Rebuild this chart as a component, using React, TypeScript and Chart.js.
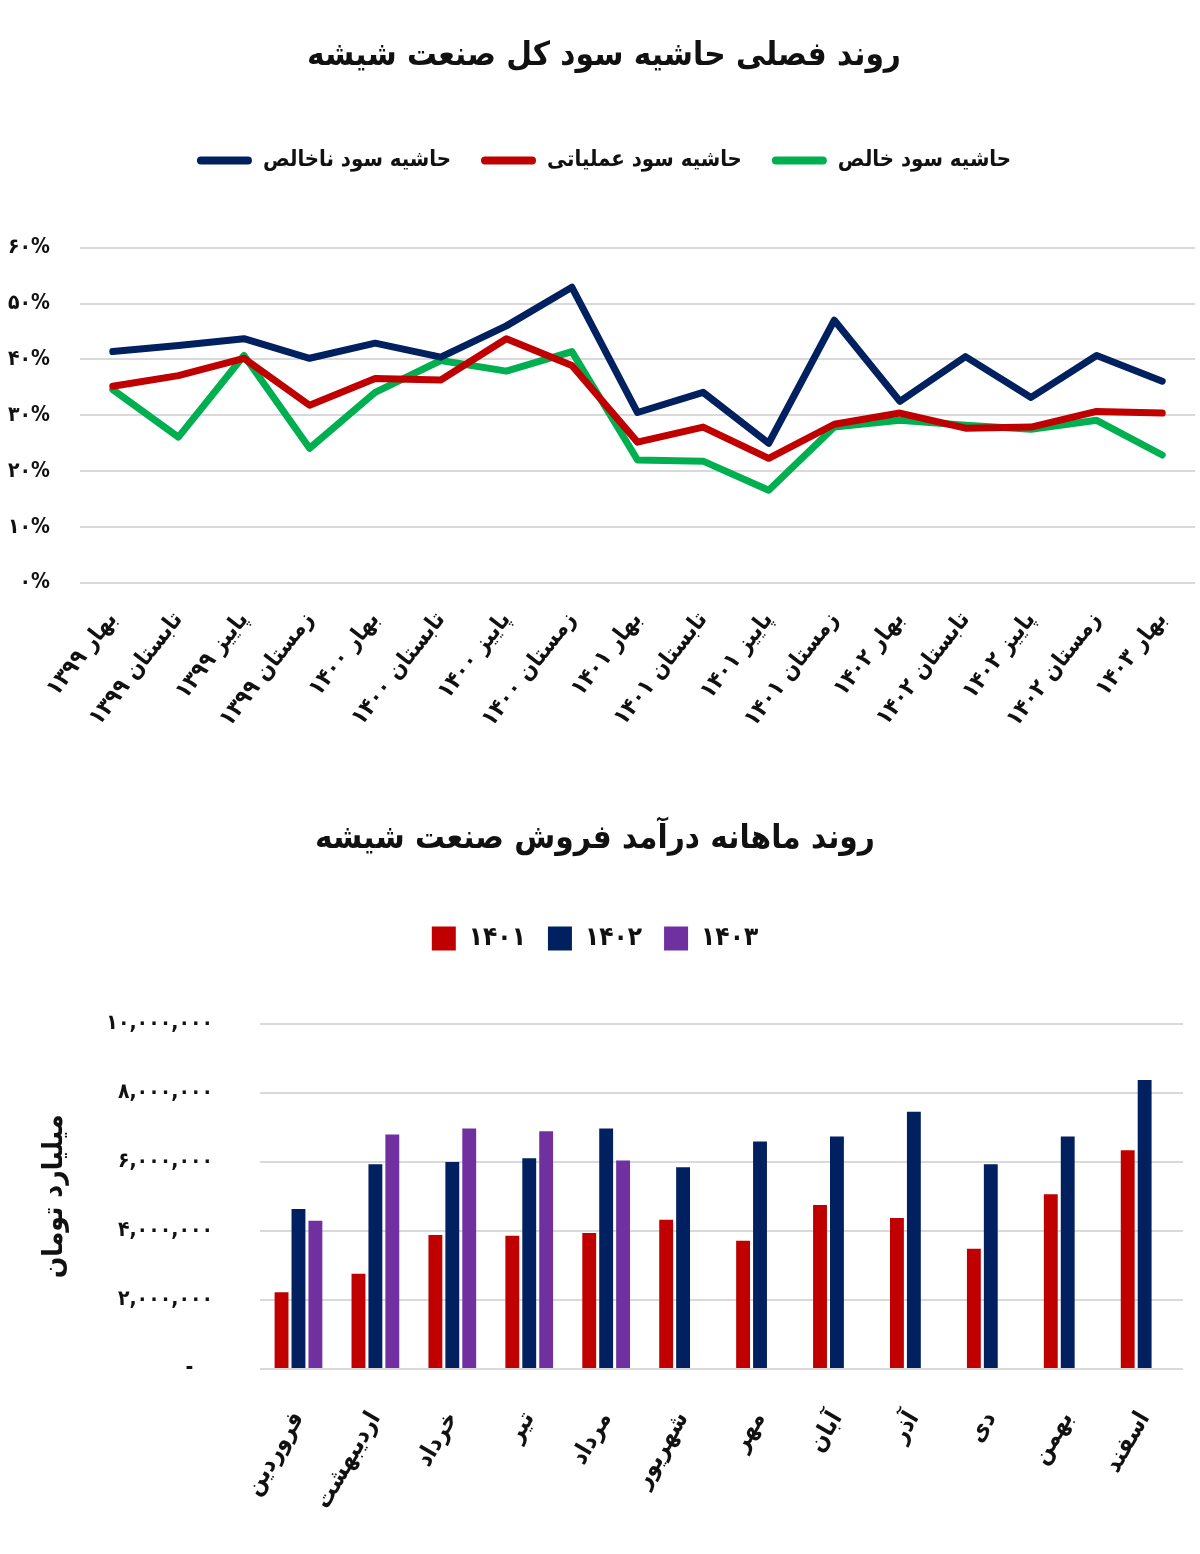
import React, { useEffect, useRef } from "react";
import { Chart, registerables } from "chart.js";

Chart.register(...registerables);

const FONT = '"DejaVu Sans Condensed", "DejaVu Sans", sans-serif';

const lineTitle = "روند فصلی حاشیه سود کل صنعت شیشه";
const barTitle = "روند ماهانه درآمد فروش صنعت شیشه";

const seasons = [
  "بهار ۱۳۹۹", "تابستان ۱۳۹۹", "پاییز ۱۳۹۹", "زمستان ۱۳۹۹",
  "بهار ۱۴۰۰", "تابستان ۱۴۰۰", "پاییز ۱۴۰۰", "زمستان ۱۴۰۰",
  "بهار ۱۴۰۱", "تابستان ۱۴۰۱", "پاییز ۱۴۰۱", "زمستان ۱۴۰۱",
  "بهار ۱۴۰۲", "تابستان ۱۴۰۲", "پاییز ۱۴۰۲", "زمستان ۱۴۰۲",
  "بهار ۱۴۰۳",
];

const grossLabel = "حاشیه سود ناخالص";
const operatingLabel = "حاشیه سود عملیاتی";
const netLabel = "حاشیه سود خالص";

const grossMargin = [41.4, 42.5, 43.7, 40.2, 42.9, 40.4, 46.0, 52.9, 30.5, 34.1, 25.0, 47.0, 32.5, 40.5, 33.2, 40.7, 36.1];
const operatingMargin = [35.2, 37.1, 40.2, 31.8, 36.6, 36.3, 43.7, 38.9, 25.2, 27.9, 22.3, 28.4, 30.4, 27.7, 27.9, 30.7, 30.4];
const netMargin = [34.6, 26.1, 40.7, 24.1, 34.1, 39.8, 37.9, 41.4, 22.0, 21.8, 16.6, 27.9, 29.1, 28.2, 27.5, 29.1, 22.9];

const months = [
  "فروردین", "اردیبهشت", "خرداد", "تیر", "مرداد", "شهریور",
  "مهر", "آبان", "آذر", "دی", "بهمن", "اسفند",
];

const yearLabels = ["۱۴۰۱", "۱۴۰۲", "۱۴۰۳"];
const sales1401 = [2220000, 2760000, 3880000, 3860000, 3940000, 4320000, 3710000, 4750000, 4370000, 3480000, 5060000, 6330000];
const sales1402 = [4630000, 5930000, 5990000, 6100000, 6960000, 5840000, 6590000, 6730000, 7450000, 5930000, 6730000, 8370000];
const sales1403 = [4290000, 6790000, 6960000, 6880000, 6040000, null, null, null, null, null, null, null];

const salesAxisTitle = "میلیارد تومان";

const NAVY = "#002060";
const RED = "#c00000";
const GREEN = "#00b050";
const PURPLE = "#7030a0";
const GRID = "#d9d9d9";

const toFa = (s: string) => s.replace(/\d/g, (d) => "۰۱۲۳۴۵۶۷۸۹"[Number(d)]);

const legendSpacer = (extra: number) => ({
  id: "legendSpacer",
  beforeInit(chart: any) {
    const legend = chart.legend;
    if (!legend) return;
    const origFit = legend.fit;
    legend.fit = function () {
      origFit.call(this);
      this.height += extra;
    };
  },
});

const flatLegendLabels = (chart: any) =>
  (Chart.defaults.plugins.legend.labels.generateLabels as any)(chart).map((l: any) => ({
    ...l,
    lineWidth: 0,
    strokeStyle: "transparent",
  }));

function LineChart() {
  const ref = useRef<HTMLCanvasElement | null>(null);
  useEffect(() => {
    if (!ref.current) return;
    const mk = (label: string, data: number[], color: string) => ({
      label,
      data,
      borderColor: color,
      backgroundColor: color,
      borderWidth: 7,
      pointRadius: 0,
      tension: 0,
      borderCapStyle: "round" as const,
      borderJoinStyle: "round" as const,
    });
    const chart = new Chart(ref.current, {
      type: "line",
      data: {
        labels: seasons,
        datasets: [
          mk(grossLabel, grossMargin, NAVY),
          mk(operatingLabel, operatingMargin, RED),
          mk(netLabel, netMargin, GREEN),
        ],
      },
      options: {
        responsive: false,
        animation: false,
        layout: { padding: { left: 8, right: 0, top: 0, bottom: 0 } },
        plugins: {
          title: {
            display: true,
            text: lineTitle,
            color: "#111",
            font: { family: FONT, size: 33, weight: "bold" },
            padding: { top: 37, bottom: 43 },
          },
          legend: {
            display: true,
            labels: {
              color: "#111",
              font: { family: FONT, size: 22, weight: "bold" },
              boxWidth: 55,
              boxHeight: 8,
              useBorderRadius: true,
              borderRadius: 4,
              padding: 30,
              generateLabels: flatLegendLabels,
            },
          },
          tooltip: { enabled: false },
        },
        scales: {
          x: {
            offset: true,
            grid: { display: false },
            border: { display: false },
            ticks: {
              color: "#111",
              font: { family: FONT, size: 23, weight: "bold" },
              minRotation: 52,
              maxRotation: 52,
              padding: 16,
              autoSkip: false,
            },
            afterFit: (s: any) => { s.height = 187; },
          },
          y: {
            min: 0,
            max: 60,
            grid: { color: GRID, lineWidth: 2, drawTicks: false },
            border: { display: false },
            ticks: {
              stepSize: 10,
              color: "#111",
              font: { family: FONT, size: 21, weight: "bold" },
              padding: 30,
              callback: (v: any) => toFa(String(v)) + "%",
            },
            afterFit: (s: any) => { s.width = 72; },
          },
        },
      },
      plugins: [legendSpacer(66)],
    });
    return () => chart.destroy();
  }, []);
  return <canvas ref={ref} width={1200} height={770} style={{ display: "block" }} />;
}

function BarChart() {
  const ref = useRef<HTMLCanvasElement | null>(null);
  useEffect(() => {
    if (!ref.current) return;
    const mk = (label: string, data: (number | null)[], color: string) => ({
      label,
      data,
      backgroundColor: color,
      borderWidth: 0,
      categoryPercentage: 0.66,
      barPercentage: 0.82,
    });
    const chart = new Chart(ref.current, {
      type: "bar",
      data: {
        labels: months,
        datasets: [
          mk(yearLabels[0], sales1401, RED),
          mk(yearLabels[1], sales1402, NAVY),
          mk(yearLabels[2], sales1403, PURPLE),
        ],
      },
      options: {
        responsive: false,
        animation: false,
        layout: { padding: { left: 0, right: 10, top: 0, bottom: 0 } },
        plugins: {
          title: {
            display: true,
            text: barTitle,
            color: "#111",
            font: { family: FONT, size: 33, weight: "bold" },
            padding: { top: 50, bottom: 44 },
          },
          legend: {
            display: true,
            labels: {
              color: "#111",
              font: { family: FONT, size: 26, weight: "bold" },
              boxWidth: 24,
              boxHeight: 24,
              padding: 22,
              generateLabels: flatLegendLabels,
            },
          },
          tooltip: { enabled: false },
        },
        scales: {
          x: {
            grid: { display: false },
            border: { display: false },
            ticks: {
              color: "#111",
              font: { family: FONT, size: 24, weight: "bold" },
              minRotation: 60,
              maxRotation: 60,
              padding: 30,
              autoSkip: false,
            },
            afterFit: (s: any) => { s.height = 185; },
          },
          y: {
            min: 0,
            max: 10000000,
            grid: { color: GRID, lineWidth: 2, drawTicks: false },
            border: { display: false },
            title: {
              display: true,
              text: salesAxisTitle,
              color: "#111",
              font: { family: FONT, size: 28, weight: "bold" },
              padding: { top: 38, bottom: 0 },
            },
            ticks: {
              stepSize: 2000000,
              color: "#111",
              font: { family: FONT, size: 21, weight: "bold" },
              padding: 47,
              callback: (v: any) => (Number(v) === 0 ? "-   " : toFa(Number(v).toLocaleString("en-US"))),
            },
            afterFit: (s: any) => { s.width = 260; },
          },
        },
      },
      plugins: [legendSpacer(62)],
    });
    return () => chart.destroy();
  }, []);
  return <canvas ref={ref} width={1200} height={784} style={{ display: "block" }} />;
}

export default function App() {
  return (
    <div style={{ position: "absolute", left: 0, top: 0, width: 1200, height: 1554, background: "#fff" }}>
      <LineChart />
      <BarChart />
    </div>
  );
}
